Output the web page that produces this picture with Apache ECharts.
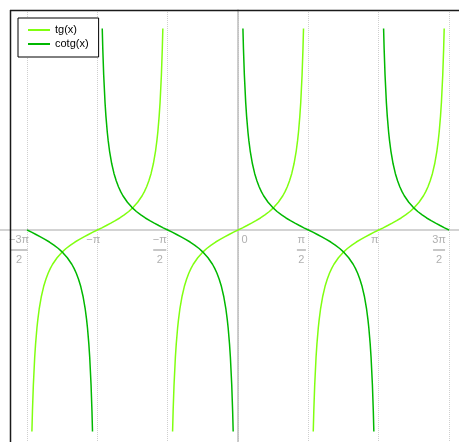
<!DOCTYPE html>
<html>
<head>
<meta charset="utf-8">
<script src="https://cdn.jsdelivr.net/npm/echarts@6/dist/echarts.min.js"></script>
<style>
  html, body { margin: 0; padding: 0; background: #fff; }
  #chart { width: 459px; height: 442px; }
</style>
</head>
<body>
<div id="chart"></div>
<script>
// Offsets from the centre of one branch (radians) and the sampled values on it.
const BRANCH_U = [-1.462, -1.45, -1.43, -1.4, -1.38, -1.35, -1.33, -1.3, -1.25, -1.2, -1.15, -1.1, -1.05, -1.0,
  -0.9, -0.8, -0.7, -0.6, -0.5, -0.4, -0.3, -0.2, -0.1, 0,
  0.1, 0.2, 0.3, 0.4, 0.5, 0.6, 0.7, 0.8, 0.9,
  1.0, 1.05, 1.1, 1.15, 1.2, 1.25, 1.3, 1.33, 1.35, 1.38, 1.4, 1.43, 1.45, 1.462];
// tg on a branch centred at k*pi
const TG_BRANCH = [-9.155, -8.238, -7.055, -5.798, -5.177, -4.455, -4.072, -3.602, -3.010, -2.572, -2.235, -1.965, -1.743, -1.557,
  -1.260, -1.030, -0.842, -0.684, -0.546, -0.423, -0.309, -0.203, -0.100, 0,
  0.100, 0.203, 0.309, 0.423, 0.546, 0.684, 0.842, 1.030, 1.260,
  1.557, 1.743, 1.965, 2.235, 2.572, 3.010, 3.602, 4.072, 4.455, 5.177, 5.798, 7.055, 8.238, 9.155];
// cotg on a branch centred at pi/2 + k*pi
const COTG_BRANCH = [9.155, 8.238, 7.055, 5.798, 5.177, 4.455, 4.072, 3.602, 3.010, 2.572, 2.235, 1.965, 1.743, 1.557,
  1.260, 1.030, 0.842, 0.684, 0.546, 0.423, 0.309, 0.203, 0.100, 0,
  -0.100, -0.203, -0.309, -0.423, -0.546, -0.684, -0.842, -1.030, -1.260,
  -1.557, -1.743, -1.965, -2.235, -2.572, -3.010, -3.602, -4.072, -4.455, -5.177, -5.798, -7.055, -8.238, -9.155];

const PI = Math.PI;
// Branch centres and which side of each branch lies inside [-3pi/2, 3pi/2]
const TG_CENTERS = [[-PI, 'both'], [0, 'both'], [PI, 'both']];
const COTG_CENTERS = [[-1.5 * PI, 'right'], [-0.5 * PI, 'both'], [0.5 * PI, 'both'], [1.5 * PI, 'left']];

// Tick labels at multiples of pi/2 (index = k + 3)
const TICK_NUM = ['−3π', '−π', '−π', '0', 'π', 'π', '3π'];
const TICK_DEN = ['2', '', '2', '', '2', '', '2'];

const SERIES_NAMES = ['tg(x)', 'cotg(x)'];
const SERIES_COLORS = ['#80ff10', '#00b800'];

function branchPoints(center, side, values) {
  const pts = [];
  BRANCH_U.forEach((u, i) => {
    if (side === 'right' && u < 0) return;
    if (side === 'left' && u > 0) return;
    pts.push([center + u, values[i]]);
  });
  return pts;
}

const series = [];
TG_CENTERS.forEach(([c, side]) => series.push({
  name: SERIES_NAMES[0], type: 'line', showSymbol: false, silent: true,
  data: branchPoints(c, side, TG_BRANCH),
  lineStyle: { color: SERIES_COLORS[0], width: 1.5 }, itemStyle: { color: SERIES_COLORS[0] }
}));
COTG_CENTERS.forEach(([c, side]) => series.push({
  name: SERIES_NAMES[1], type: 'line', showSymbol: false, silent: true,
  data: branchPoints(c, side, COTG_BRANCH),
  lineStyle: { color: SERIES_COLORS[1], width: 1.5 }, itemStyle: { color: SERIES_COLORS[1] }
}));

// Horizontal shift of each label block relative to its tick (via padding / spacer)
const LABEL_PAD = [16, 8, 16, -13, 14, 8, 20];
const BAR_W = [17, 0, 13, 0, 9, 0, 12];

const LABEL_FONT = 'Liberation Sans, Arial, sans-serif';
const rich = {};
TICK_NUM.forEach((t, i) => {
  const p = LABEL_PAD[i];
  const pad = p >= 0 ? [0, p, 0, 0] : [0, 0, 0, -p];
  rich['n' + i] = { color: '#b0b0b0', fontSize: 11, lineHeight: 12, padding: pad, fontFamily: LABEL_FONT };
  rich['b' + i] = { backgroundColor: '#b4b4b4', width: BAR_W[i], height: 1.5, lineHeight: 8 };
  rich['s' + i] = { width: Math.abs(p), height: 1, lineHeight: 8 };
  rich['d' + i] = { color: '#b0b0b0', fontSize: 11, lineHeight: 11, padding: pad, fontFamily: LABEL_FONT };
});

const chart = echarts.init(document.getElementById('chart'), null, { renderer: 'canvas' });
chart.setOption({
  backgroundColor: '#fff',
  animation: false,
  grid: { left: -43.3, top: 10, width: 562.7, height: 440, containLabel: false, outerBoundsMode: 'none' },
  legend: {
    data: SERIES_NAMES,
    orient: 'vertical',
    left: 18, top: 18,
    padding: [6, 10, 7, 10],
    itemGap: 2,
    itemWidth: 22, itemHeight: 2,
    icon: 'rect',
    borderColor: '#000', borderWidth: 1,
    backgroundColor: '#fff',
    textStyle: { color: '#000', fontSize: 11, lineHeight: 12, fontFamily: LABEL_FONT }
  },
  xAxis: {
    type: 'value',
    min: -2 * PI, max: 2 * PI, interval: PI / 2,
    // the horizontal axis sits on y = 0, half way up the plot
    offset: -220,
    axisLine: { onZero: false, lineStyle: { color: '#c4c4c4', width: 1.5 } },
    axisTick: { show: false },
    splitLine: { show: true, lineStyle: { color: '#cfcfcf', type: 'dotted', width: 1 } },
    axisLabel: {
      margin: 4,
      align: 'center',
      verticalAlign: 'top',
      showMinLabel: true, showMaxLabel: true,
      hideOverlap: false,
      formatter: function (v) {
        const k = Math.round(v / (PI / 2));
        const i = k + 3;
        if (i < 0 || i > 6) return '';
        if (TICK_DEN[i]) {
          return '{n' + i + '|' + TICK_NUM[i] + '}\n{b' + i + '| }{s' + i + '| }\n{d' + i + '|' + TICK_DEN[i] + '}';
        }
        return '{n' + i + '|' + TICK_NUM[i] + '}';
      },
      rich: rich
    }
  },
  yAxis: {
    type: 'value',
    min: -10, max: 10,
    axisLine: { show: true, onZero: true, lineStyle: { color: '#bdbdbd', width: 1.5 } },
    axisTick: { show: false },
    axisLabel: { show: false },
    splitLine: { show: false }
  },
  graphic: [
    { type: 'line', silent: true, z: 100, shape: { x1: 10.5, y1: 10, x2: 10.5, y2: 442 }, style: { stroke: '#1a1a1a', lineWidth: 1.5 } },
    { type: 'line', silent: true, z: 100, shape: { x1: 10, y1: 10.5, x2: 459, y2: 10.5 }, style: { stroke: '#1a1a1a', lineWidth: 1.5 } }
  ],
  series: series
});
</script>
</body>
</html>
